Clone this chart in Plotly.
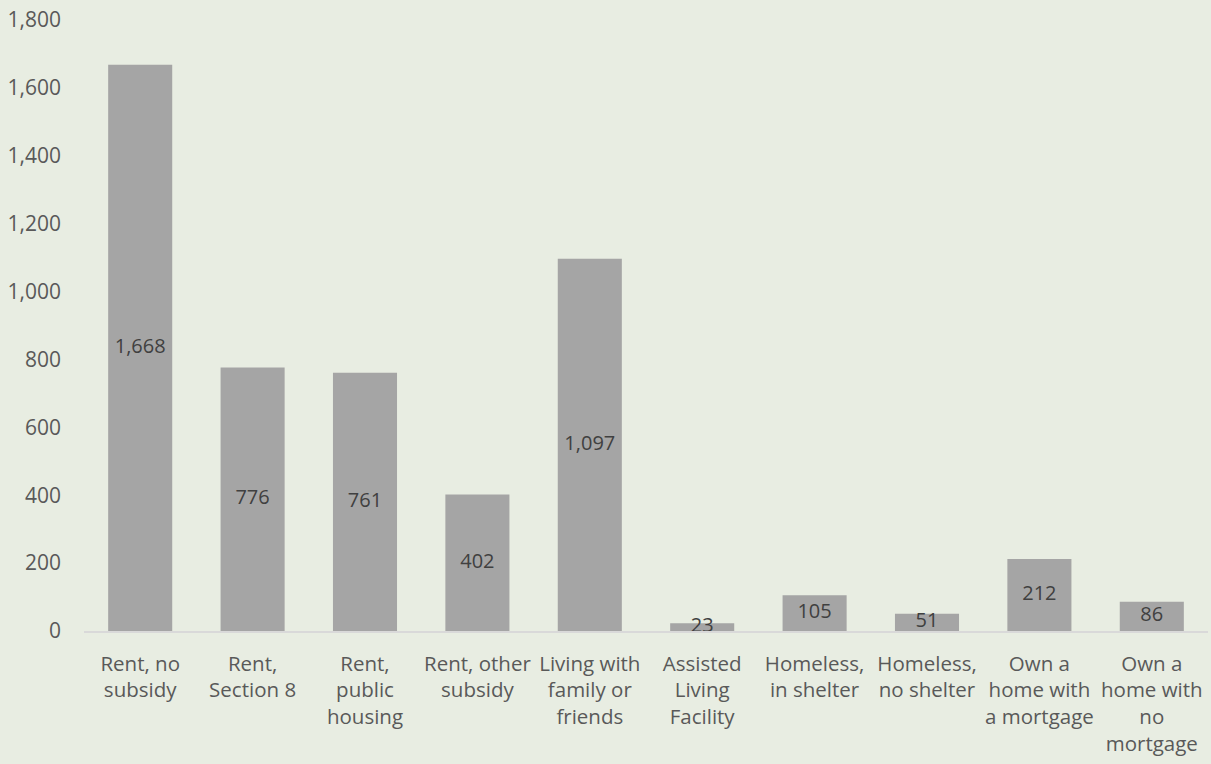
import plotly.graph_objects as go

categories = [
    "Rent, no<br>subsidy",
    "Rent,<br>Section 8",
    "Rent,<br>public<br>housing",
    "Rent, other<br>subsidy",
    "Living with<br>family or<br>friends",
    "Assisted<br>Living<br>Facility",
    "Homeless,<br>in shelter",
    "Homeless,<br>no shelter",
    "Own a<br>home with<br>a mortgage",
    "Own a<br>home with<br>no<br>mortgage",
]
values = [1668, 776, 761, 402, 1097, 23, 105, 51, 212, 86]
y_ticks = [0, 200, 400, 600, 800, 1000, 1200, 1400, 1600, 1800]

FONT = "Open Sans"
BG = "#e8ede2"

fig = go.Figure()
fig.add_trace(go.Bar(
    x=categories, y=values,
    marker=dict(color="#a5a5a5", line=dict(width=0)),
    hoverinfo="x+y",
))
fig.add_trace(go.Scatter(
    x=categories, y=[v / 2 for v in values],
    mode="text",
    text=[f"{v:,}" for v in values],
    textposition="middle center",
    textfont=dict(family=FONT, size=20, color="#404040"),
    cliponaxis=False,
    hoverinfo="skip",
))

fig.update_layout(
    width=1211, height=764,
    margin=dict(l=84, r=3, t=20, b=133),
    paper_bgcolor=BG, plot_bgcolor=BG,
    showlegend=False,
    bargap=0.43,
    font=dict(family=FONT, size=21, color="#595959"),
    xaxis=dict(
        showgrid=False, zeroline=False,
        showline=True, linecolor="#d9d9d9", linewidth=2,
        ticks="", ticklabelstandoff=13,
        tickfont=dict(family=FONT, size=20.5, color="#595959"),
    ),
    yaxis=dict(
        range=[0, 1800], tickvals=y_ticks,
        tickformat=",", showgrid=False, zeroline=False,
        showline=False, ticks="", ticklabelstandoff=22,
        tickfont=dict(family=FONT, size=21, color="#595959"),
    ),
)

fig.write_html(
    "out.html",
    config={"displayModeBar": False},
    post_script="document.body.style.margin='0';document.body.style.overflow='hidden';document.body.style.background='" + BG + "';",
)
